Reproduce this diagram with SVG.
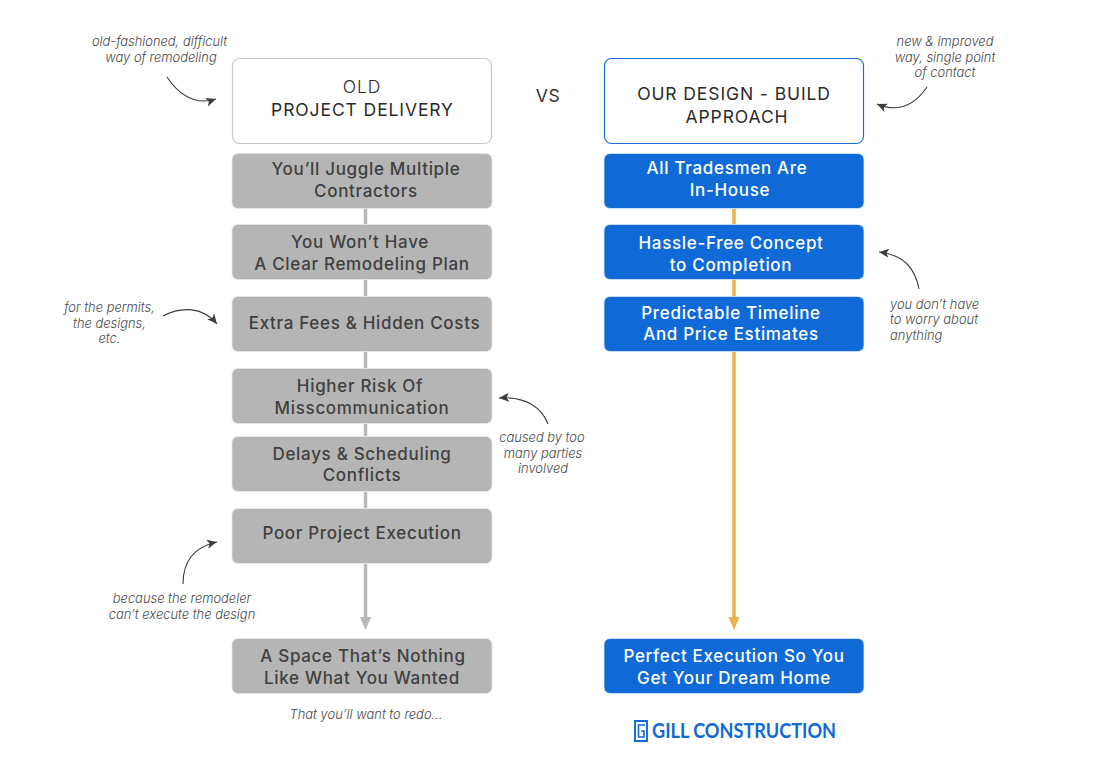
<svg xmlns="http://www.w3.org/2000/svg" width="1095" height="771" viewBox="0 0 1095 771">
<style>
text{font-family:Inter,"Liberation Sans",sans-serif;text-anchor:middle}
.b{fill:#b5b5b5;stroke:#e6e6e6;stroke-width:.8}
.u{fill:#0f6ad8;stroke:#dbe9f9;stroke-width:.8}
.t{font-size:17px;font-weight:500;letter-spacing:.68px}
.d{fill:#404040}
.w{fill:#fff}
.h{font-size:17.5px;fill:#2a2a2a;letter-spacing:.9px}
.n{font-size:12.9px;font-style:italic;font-weight:300;fill:#484848}
.c{fill:none;stroke:#3c3c3c;stroke-width:1.100}
</style>
<defs>
<marker id="a" markerWidth="14" markerHeight="12" refX="10" refY="5" orient="auto" markerUnits="userSpaceOnUse"><path d="M0 0.500L10 5L0 9.500L2.500 5Z" fill="#3c3c3c"/></marker>
</defs>
<g id="connectors">
<path d="M365.500 208V618" stroke="#b8b8b8" stroke-width="3.500" fill="none"/>
<path d="M360 617L371 617L365.500 630Z" fill="#b8b8b8"/>
<path d="M734 208V618" stroke="#e9b04c" stroke-width="3.500" fill="none"/>
<path d="M728.500 617L739.500 617L734 630Z" fill="#e9b04c"/>
<path class="c" marker-end="url(#a)" d="M167 77C178 94 195 106 216 99"/>
<path class="c" marker-end="url(#a)" d="M927 87C914 106 898 113 877 104"/>
<path class="c" marker-end="url(#a)" d="M919 289C915 268 904 255 879 252"/>
<path class="c" marker-end="url(#a)" d="M163 316C182 306 203 307 217 324"/>
<path class="c" marker-end="url(#a)" d="M548 424C542 408 526 396 499 398"/>
<path class="c" marker-end="url(#a)" d="M183 584C183 562 194 547 217 542"/>
</g>
<g id="old-header"><rect x="232.500" y="58.500" width="259" height="85" rx="7" fill="#fff" stroke="#c8c8c8" stroke-width="1.200"/><text class="h" x="362" y="93" font-weight="300" letter-spacing=".4">OLD</text><text class="h" x="362.500" y="116" font-weight="400" letter-spacing="1.100">PROJECT DELIVERY</text></g>
<g id="vs"><text x="548" y="102" font-size="17.500" fill="#333" letter-spacing=".6">VS</text></g>
<g id="new-header"><rect x="604.500" y="58.500" width="259" height="85" rx="7" fill="#fff" stroke="#1a6fd6" stroke-width="1.200"/><text class="h" x="734" y="100" font-weight="400" letter-spacing="1.600">OUR DESIGN - BUILD</text><text class="h" x="737" y="123" font-weight="400" letter-spacing=".8">APPROACH</text></g>
<g id="old1"><rect class="b" x="232" y="153.500" width="260" height="55" rx="6"/><text class="t d" x="366" y="175">You’ll Juggle Multiple</text><text class="t d" x="366" y="197">Contractors</text></g>
<g id="old2"><rect class="b" x="232" y="224.500" width="260" height="55" rx="6"/><text class="t d" x="360" y="248">You Won’t Have</text><text class="t d" x="362" y="270">A Clear Remodeling Plan</text></g>
<g id="old3"><rect class="b" x="232" y="296.500" width="260" height="55" rx="6"/><text class="t d" x="364.500" y="329">Extra Fees &amp; Hidden Costs</text></g>
<g id="old4"><rect class="b" x="232" y="368.500" width="260" height="55" rx="6"/><text class="t d" x="360" y="392">Higher Risk Of</text><text class="t d" x="362" y="414">Misscommunication</text></g>
<g id="old5"><rect class="b" x="232" y="436.500" width="260" height="55" rx="6"/><text class="t d" x="362" y="460">Delays &amp; Scheduling</text><text class="t d" x="362" y="481">Conflicts</text></g>
<g id="old6"><rect class="b" x="232" y="508.500" width="260" height="55" rx="6"/><text class="t d" x="362" y="539">Poor Project Execution</text></g>
<g id="old7"><rect class="b" x="232" y="638.500" width="260" height="55" rx="6"/><text class="t d" x="363" y="662">A Space That’s Nothing</text><text class="t d" x="362" y="684">Like What You Wanted</text></g>
<g id="new1"><rect class="u" x="604" y="153.500" width="260" height="55" rx="6"/><text class="t w" x="727" y="174">All Tradesmen Are</text><text class="t w" x="730" y="196">In-House</text></g>
<g id="new2"><rect class="u" x="604" y="224.500" width="260" height="55" rx="6"/><text class="t w" x="731" y="249">Hassle-Free Concept</text><text class="t w" x="731" y="271">to Completion</text></g>
<g id="new3"><rect class="u" x="604" y="296.500" width="260" height="55" rx="6"/><text class="t w" x="731" y="319">Predictable Timeline</text><text class="t w" x="731" y="340">And Price Estimates</text></g>
<g id="new4"><rect class="u" x="604" y="638.500" width="260" height="55" rx="6"/><text class="t w" x="734" y="662">Perfect Execution So You</text><text class="t w" x="734" y="684">Get Your Dream Home</text></g>
<g id="note-old"><text class="n" x="159.500" y="46">old-fashioned, difficult</text><text class="n" x="161" y="62">way of remodeling</text></g>
<g id="note-new"><text class="n" x="945" y="46">new &amp; improved</text><text class="n" x="945" y="62">way, single point</text><text class="n" x="945" y="77">of contact</text></g>
<g id="note-worry"><text class="n" style="text-anchor:start" x="890" y="309">you don’t have</text><text class="n" style="text-anchor:start" x="890" y="324">to worry about</text><text class="n" style="text-anchor:start" x="890" y="340">anything</text></g>
<g id="note-fees"><text class="n" x="109.500" y="312">for the permits,</text><text class="n" x="109.500" y="328">the designs,</text><text class="n" x="109.500" y="343">etc.</text></g>
<g id="note-risk"><text class="n" x="542" y="442">caused by too</text><text class="n" x="543" y="458">many parties</text><text class="n" x="543" y="473">involved</text></g>
<g id="note-exec"><text class="n" x="182" y="603">because the remodeler</text><text class="n" x="182" y="619">can’t execute the design</text></g>
<g id="note-redo"><text class="n" x="366" y="719">That you’ll want to redo...</text></g>
<g id="logo"><path d="M635 721H647V741H635Z" fill="none" stroke="#0f6ad8" stroke-width="1.900"/><path d="M645 725H638.500V737H644V731H641" fill="none" stroke="#0f6ad8" stroke-width="1.600"/><text x="652" y="737.500" font-size="20.500" font-weight="700" fill="#0f6ad8" style="text-anchor:start;font-family:Lato,'Liberation Sans',sans-serif" textLength="184" lengthAdjust="spacingAndGlyphs">GILL CONSTRUCTION</text></g>
</svg>
